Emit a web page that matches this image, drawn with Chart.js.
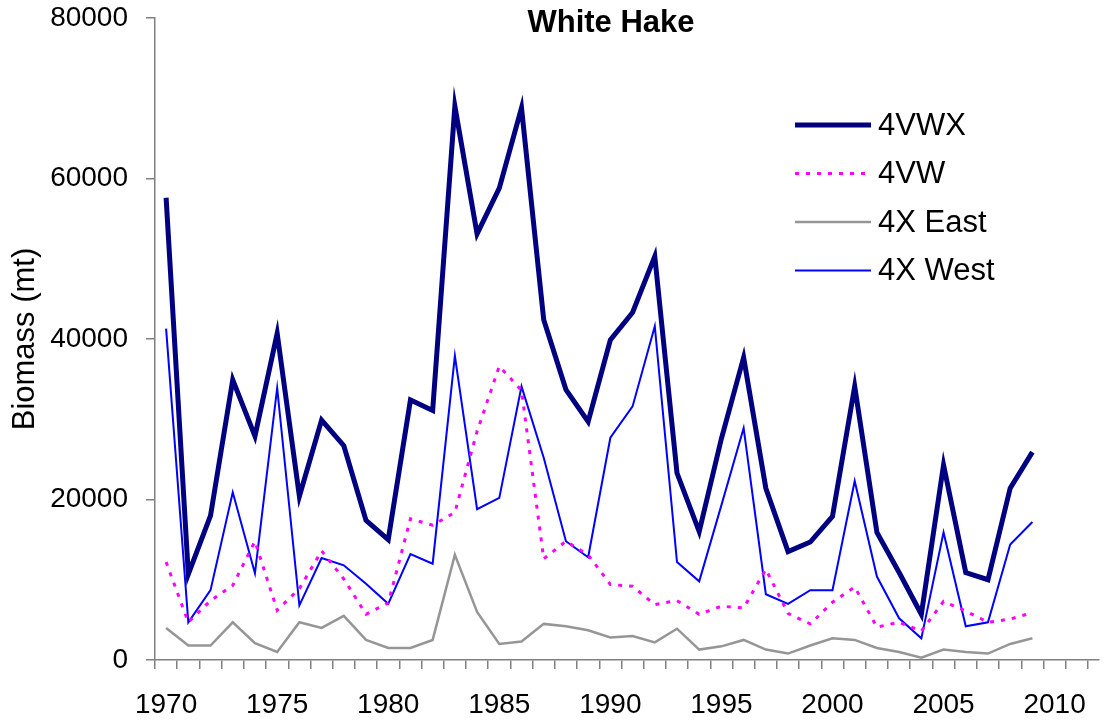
<!DOCTYPE html>
<html>
<head>
<meta charset="utf-8">
<title>White Hake</title>
<script src="https://cdn.jsdelivr.net/npm/chart.js@4/dist/chart.umd.min.js"></script>
<style>
    html, body { margin: 0; padding: 0; background: #ffffff; }
    #chart-container { width: 1107px; height: 724px; }
</style>
</head>
<body>
<div id="chart-container">
    <canvas id="hakeChart" width="1107" height="724"></canvas>
</div>
<script>
// Survey years and biomass (mt) by area
const years = [
    1970, 1971, 1972, 1973, 1974, 1975, 1976, 1977, 1978, 1979,
    1980, 1981, 1982, 1983, 1984, 1985, 1986, 1987, 1988, 1989,
    1990, 1991, 1992, 1993, 1994, 1995, 1996, 1997, 1998, 1999,
    2000, 2001, 2002, 2003, 2004, 2005, 2006, 2007, 2008, 2009
];
const biomass4VWX = [
    57600, 10700, 18000, 34900, 27900, 40700, 20400, 29900, 26700, 17400,
    15000, 32400, 31100, 69000, 53100, 58800, 68800, 42400, 33700, 29700,
    39900, 43300, 50300, 23300, 16000, 27600, 37700, 21400, 13500, 14700,
    17900, 34100, 15900, 10900, 5700, 24300, 10900, 10000, 21400, 25900
];
const biomass4VW = [
    12200, 4700, 7400, 9300, 14800, 6200, 8900, 13600, 10100, 5700,
    7100, 17600, 16800, 18400, 28500, 36600, 33600, 12600, 14800, 13100,
    9400, 9200, 6900, 7400, 5700, 6700, 6500, 11300, 5800, 4500,
    7200, 9100, 4100, 4700, 3600, 7300, 6100, 4700, 5100, 5900
];
const biomass4XEast = [
    4000, 1800, 1800, 4700, 2100, 1000, 4700, 4000, 5500, 2500,
    1500, 1500, 2500, 13100, 6000, 2000, 2300, 4500, 4200, 3700,
    2800, 3000, 2200, 3900, 1300, 1700, 2500, 1300, 800, 1800,
    2700, 2500, 1500, 1000, 300, 1300, 1000, 800, 2000, 2700
];
const biomass4XWest = [
    41300, 4700, 8700, 20900, 10800, 33900, 6800, 12700, 11800, 9500,
    7000, 13200, 12000, 37900, 18800, 20200, 34100, 25200, 14800, 12800,
    27700, 31600, 41600, 12200, 9800, 19300, 28900, 8200, 7000, 8700,
    8700, 22300, 10400, 5200, 2700, 15900, 4200, 4700, 14400, 17200
];
const yearLabels = [1970, 1975, 1980, 1985, 1990, 1995, 2000, 2005, 2010];
const biomassTicks = [0, 20000, 40000, 60000, 80000];

const FONT = '"Liberation Sans", Arial, Helvetica, sans-serif';
const AXIS_GREY = '#808080';

function toPoints(values) {
    return years.map((yr, i) => ({ x: yr, y: values[i] }));
}

// Title and in-plot legend, drawn like the spreadsheet original
const overlayPlugin = {
    id: 'hakeOverlay',
    afterDraw(chart) {
        const ctx = chart.ctx;
        ctx.save();

        ctx.fillStyle = '#000000';
        ctx.font = 'bold 31px ' + FONT;
        ctx.textAlign = 'center';
        ctx.textBaseline = 'middle';
        ctx.fillText('White Hake', 611, 23);

        const lineStart = 795;
        const lineEnd = 871;
        const rowTop = 125;
        const rowGap = 48.5;
        ctx.font = '31px ' + FONT;
        ctx.textAlign = 'left';
        chart.data.datasets.forEach((ds, i) => {
            const y = rowTop + i * rowGap;
            ctx.beginPath();
            ctx.strokeStyle = ds.borderColor;
            ctx.lineWidth = ds.borderWidth;
            ctx.setLineDash(ds.borderDash || []);
            ctx.moveTo(lineStart, y);
            ctx.lineTo(lineEnd, y);
            ctx.stroke();
            ctx.setLineDash([]);
            ctx.fillStyle = '#000000';
            ctx.fillText(ds.label, lineEnd + 7, y + 1);
        });

        ctx.restore();
    }
};

const canvas = document.getElementById('hakeChart');
if (typeof Chart === 'undefined') {
    console.error('Chart.js is not loaded');
} else {
    new Chart(canvas, {
        type: 'line',
        data: {
            datasets: [
                { label: '4VWX', data: toPoints(biomass4VWX), borderColor: '#000080', borderWidth: 5 },
                { label: '4VW', data: toPoints(biomass4VW), borderColor: '#FF00FF', borderWidth: 3, borderDash: [4, 7] },
                { label: '4X East', data: toPoints(biomass4XEast), borderColor: '#969696', borderWidth: 2.5 },
                { label: '4X West', data: toPoints(biomass4XWest), borderColor: '#0000FF', borderWidth: 2 }
            ]
        },
        options: {
            responsive: false,
            animation: false,
            layout: { padding: { top: 0, right: 6, bottom: 0, left: 0 } },
            elements: {
                line: { tension: 0, fill: false },
                point: { radius: 0, hoverRadius: 0 }
            },
            plugins: {
                legend: { display: false },
                title: { display: false },
                tooltip: { enabled: false }
            },
            scales: {
                x: {
                    type: 'linear',
                    min: 1969.5,
                    max: 2012,
                    afterBuildTicks(scale) {
                        // tick marks sit between years, labels every five years
                        const marks = years.map(yr => yr - 0.5);
                        for (let yr = 2009.5; yr < 2012; yr++) marks.push(yr);
                        scale.ticks = marks.concat(yearLabels)
                            .sort((a, b) => a - b)
                            .map(v => ({ value: v }));
                    },
                    afterFit(scale) { scale.height = 64; },
                    border: { display: true, color: AXIS_GREY, width: 1.5 },
                    grid: {
                        drawOnChartArea: false,
                        drawTicks: true,
                        tickLength: 9,
                        lineWidth: 1.5,
                        color: c => (c.tick && Number.isInteger(c.tick.value)) ? 'rgba(0,0,0,0)' : AXIS_GREY
                    },
                    ticks: {
                        autoSkip: false,
                        maxRotation: 0,
                        padding: 19,
                        color: '#000000',
                        font: { family: FONT, size: 28 },
                        callback: v => Number.isInteger(v) ? String(v) : ''
                    }
                },
                y: {
                    min: 0,
                    max: 80000,
                    afterBuildTicks(scale) {
                        scale.ticks = biomassTicks.map(v => ({ value: v }));
                    },
                    afterFit(scale) {
                        scale.width = 155;
                        // leave just enough room above for the top label
                        scale.paddingTop = 18;
                        scale.paddingBottom = 0;
                    },
                    border: { display: true, color: AXIS_GREY, width: 1.5 },
                    grid: {
                        drawOnChartArea: false,
                        drawTicks: true,
                        tickLength: 9,
                        lineWidth: 1.5,
                        color: AXIS_GREY
                    },
                    ticks: {
                        padding: 18,
                        color: '#000000',
                        font: { family: FONT, size: 28 },
                        callback: v => String(v)
                    },
                    title: {
                        display: true,
                        text: 'Biomass (mt)',
                        color: '#000000',
                        font: { family: FONT, size: 31 },
                        padding: { top: 7, bottom: 0 }
                    }
                }
            }
        },
        plugins: [overlayPlugin]
    });
}
</script>
</body>
</html>
